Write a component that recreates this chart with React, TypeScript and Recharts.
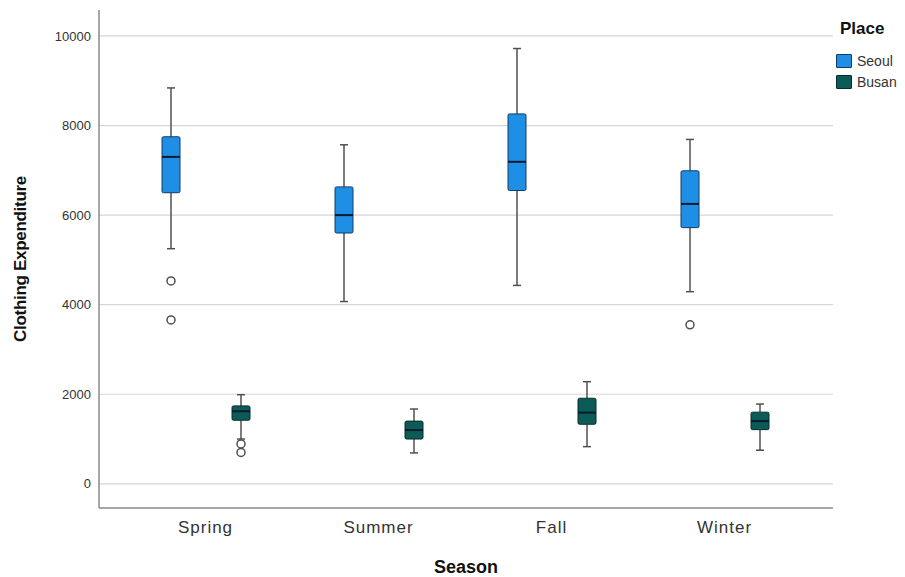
import { Bar, CartesianGrid, ComposedChart, XAxis, YAxis } from "recharts";

const seasons = ["Spring", "Summer", "Fall", "Winter"];

// Seoul box statistics per season
const seoulMin = [5250, 4070, 4430, 4290];
const seoulQ1 = [6500, 5600, 6550, 5720];
const seoulMedian = [7300, 6000, 7190, 6250];
const seoulQ3 = [7750, 6630, 8260, 6990];
const seoulMax = [8840, 7570, 9720, 7690];
const seoulOutliers = [[4530, 3660], [], [], [3550]];

// Busan box statistics per season
const busanMin = [1000, 690, 830, 750];
const busanQ1 = [1420, 1000, 1330, 1210];
const busanMedian = [1620, 1200, 1590, 1400];
const busanQ3 = [1740, 1400, 1910, 1600];
const busanMax = [1990, 1670, 2280, 1780];
const busanOutliers = [[890, 700], [], [], []];

const yTicks = [0, 2000, 4000, 6000, 8000, 10000];

const SEOUL = "#1f8fe5";
const BUSAN = "#0c5b56";

const data = seasons.map((season, i) => ({
  season,
  seoul: {
    min: seoulMin[i],
    q1: seoulQ1[i],
    med: seoulMedian[i],
    q3: seoulQ3[i],
    max: seoulMax[i],
    out: seoulOutliers[i],
  },
  busan: {
    min: busanMin[i],
    q1: busanQ1[i],
    med: busanMedian[i],
    q3: busanQ3[i],
    max: busanMax[i],
    out: busanOutliers[i],
  },
}));

type Stats = { min: number; q1: number; med: number; q3: number; max: number; out: number[] };

function makeBox(key: "seoul" | "busan", fill: string, edge: string) {
  return (props: any) => {
    const { x, y, width, height, payload } = props;
    const s: Stats = payload[key];
    const top = Math.min(y, y + height);
    const h = Math.abs(height);
    const k = h / (s.q3 - s.q1);
    const py = (v: number) => top + (s.q3 - v) * k;
    const cx = x + width / 2;
    const whisker = "#505050";
    return (
      <g>
        <line x1={cx} x2={cx} y1={py(s.max)} y2={py(s.q3)} stroke={whisker} strokeWidth={1.5} />
        <line x1={cx} x2={cx} y1={py(s.q1)} y2={py(s.min)} stroke={whisker} strokeWidth={1.5} />
        <line x1={cx - 4} x2={cx + 4} y1={py(s.max)} y2={py(s.max)} stroke={whisker} strokeWidth={1.5} />
        <line x1={cx - 4} x2={cx + 4} y1={py(s.min)} y2={py(s.min)} stroke={whisker} strokeWidth={1.5} />
        <rect x={x} y={top} width={width} height={h} rx={1.5} fill={fill} stroke={edge} strokeWidth={1} />
        <line x1={x} x2={x + width} y1={py(s.med)} y2={py(s.med)} stroke="#0a1a30" strokeWidth={2} />
        {s.out.map((v, j) => (
          <circle key={j} cx={cx} cy={py(v)} r={4} fill="#fff" stroke={whisker} strokeWidth={1.5} />
        ))}
      </g>
    );
  };
}

const tickStyle = { fill: "#333", fontFamily: "Arial, 'Liberation Sans', sans-serif" };

export default function App() {
  return (
    <div style={{ position: "absolute", left: 0, top: 0, width: 905, height: 577, background: "#fff" }}>
      <ComposedChart
        width={905}
        height={577}
        data={data}
        barSize={18}
        barGap={52}
        margin={{ top: 10, right: 72, bottom: 0, left: 0 }}
      >
        <CartesianGrid vertical={false} horizontalValues={yTicks} stroke="#d6d6d6" strokeWidth={1.2} />
        <XAxis
          dataKey="season"
          height={69}
          padding={{ left: 20, right: 22 }}
          tickLine={false}
          tickMargin={7}
          axisLine={{ stroke: "#8a8a8a", strokeWidth: 1.5 }}
          tick={{ ...tickStyle, fontSize: 17, letterSpacing: 1 }}
          label={{
            value: "Season",
            position: "insideBottom",
            offset: 4,
            style: { fill: "#111", fontSize: 18, fontWeight: 700, fontFamily: "Arial, 'Liberation Sans', sans-serif" },
          }}
        />
        <YAxis
          type="number"
          width={99}
          domain={[-540, 10580]}
          ticks={yTicks}
          tickLine={false}
          axisLine={{ stroke: "#8a8a8a", strokeWidth: 1.5 }}
          tick={{ ...tickStyle, fontSize: 13 }}
          label={{
            value: "Clothing Expenditure",
            angle: -90,
            position: "insideLeft",
            offset: 20,
            style: {
              fill: "#111",
              fontSize: 17,
              fontWeight: 700,
              letterSpacing: -0.3,
              textAnchor: "middle",
              fontFamily: "Arial, 'Liberation Sans', sans-serif",
            },
          }}
        />
        <Bar
          dataKey={(d: any) => [d.seoul.q1, d.seoul.q3]}
          name="Seoul"
          fill={SEOUL}
          shape={makeBox("seoul", SEOUL, "#143a66")}
          isAnimationActive={false}
        />
        <Bar
          dataKey={(d: any) => [d.busan.q1, d.busan.q3]}
          name="Busan"
          fill={BUSAN}
          shape={makeBox("busan", BUSAN, "#062e2b")}
          isAnimationActive={false}
        />
      </ComposedChart>
      <div
        style={{
          position: "absolute",
          left: 836,
          top: 19,
          fontFamily: "Arial, 'Liberation Sans', sans-serif",
        }}
      >
        <div style={{ fontSize: 17, fontWeight: 700, color: "#111", marginBottom: 11, marginLeft: 4 }}>Place</div>
        {[
          { name: "Seoul", color: SEOUL, edge: "#143a66" },
          { name: "Busan", color: BUSAN, edge: "#062e2b" },
        ].map((item) => (
          <div key={item.name} style={{ display: "flex", alignItems: "center", height: 21 }}>
            <span
              style={{
                display: "inline-block",
                width: 14,
                height: 12,
                background: item.color,
                border: `1px solid ${item.edge}`,
                borderRadius: 1,
                marginRight: 5,
              }}
            />
            <span style={{ fontSize: 14, color: "#333" }}>{item.name}</span>
          </div>
        ))}
      </div>
    </div>
  );
}
